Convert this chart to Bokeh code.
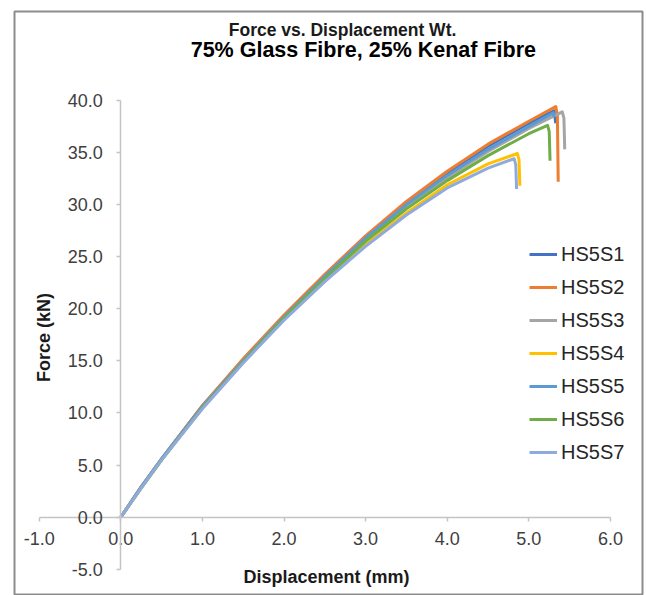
from math import pi
from bokeh.plotting import figure
from bokeh.models import (LinearAxis, FixedTicker, NumeralTickFormatter, Range1d,
                          Legend, LegendItem, Label)
from bokeh.embed import file_html
from bokeh.resources import INLINE

# ---------------- data ----------------
title_line1 = "Force vs. Displacement Wt."
title_line2 = "75% Glass Fibre, 25% Kenaf Fibre"
x_title = "Displacement (mm)"
y_title = "Force (kN)"

x_ticks = [-1, 0, 1, 2, 3, 4, 5, 6]
y_ticks = [-5, 0, 5, 10, 15, 20, 25, 30, 35, 40]

series_names = ["HS5S1", "HS5S2", "HS5S3", "HS5S4", "HS5S5", "HS5S6", "HS5S7"]
series_colors = ["#4472C4", "#ED7D31", "#A5A5A5", "#FFC000", "#5B9BD5", "#70AD47", "#8FAADC"]

hs5s1_x = [0, 0.25, 0.5, 1.0, 1.5, 2.0, 2.5, 3.0, 3.5, 4.0, 4.5, 5.0, 5.31, 5.33]
hs5s1_y = [0, 2.9, 5.6, 10.7, 15.1, 19.3, 23.2, 26.9, 30.2, 33.0, 35.6, 37.8, 39.0, 37.8]

hs5s2_x = [0, 0.25, 0.5, 1.0, 1.5, 2.0, 2.5, 3.0, 3.5, 4.0, 4.5, 5.0, 5.33, 5.35, 5.36]
hs5s2_y = [0, 2.9, 5.6, 10.7, 15.2, 19.4, 23.3, 27.0, 30.3, 33.2, 35.8, 38.0, 39.4, 38.6, 32.2]

hs5s3_x = [0, 0.25, 0.5, 1.0, 1.5, 2.0, 2.5, 3.0, 3.5, 4.0, 4.5, 5.0, 5.41, 5.43, 5.44]
hs5s3_y = [0, 2.8, 5.5, 10.6, 15.0, 19.2, 23.0, 26.7, 29.9, 32.6, 35.1, 37.3, 38.9, 38.3, 35.3]

hs5s4_x = [0, 0.25, 0.5, 1.0, 1.5, 2.0, 2.5, 3.0, 3.5, 4.0, 4.5, 4.86, 4.88, 4.89]
hs5s4_y = [0, 2.8, 5.5, 10.5, 14.9, 19.0, 22.7, 26.2, 29.2, 31.9, 33.9, 34.9, 34.3, 31.8]

hs5s5_x = [0, 0.25, 0.5, 1.0, 1.5, 2.0, 2.5, 3.0, 3.5, 4.0, 4.5, 5.0, 5.30, 5.31]
hs5s5_y = [0, 2.9, 5.6, 10.6, 15.0, 19.2, 23.1, 26.8, 30.0, 32.8, 35.3, 37.5, 38.8, 38.4]

hs5s6_x = [0, 0.25, 0.5, 1.0, 1.5, 2.0, 2.5, 3.0, 3.5, 4.0, 4.5, 5.0, 5.23, 5.25, 5.26]
hs5s6_y = [0, 2.8, 5.5, 10.5, 14.9, 19.1, 22.9, 26.5, 29.6, 32.3, 34.7, 36.8, 37.6, 37.0, 34.2]

hs5s7_x = [0, 0.25, 0.5, 1.0, 1.5, 2.0, 2.5, 3.0, 3.5, 4.0, 4.5, 4.82, 4.84, 4.85]
hs5s7_y = [0, 2.8, 5.5, 10.4, 14.8, 18.9, 22.6, 26.0, 29.0, 31.6, 33.5, 34.4, 33.8, 31.5]

series_x = [hs5s1_x, hs5s2_x, hs5s3_x, hs5s4_x, hs5s5_x, hs5s6_x, hs5s7_x]
series_y = [hs5s1_y, hs5s2_y, hs5s3_y, hs5s4_y, hs5s5_y, hs5s6_y, hs5s7_y]

# ---------------- figure ----------------
FONT = "Liberation Sans"

p = figure(width=644, height=595, output_backend="svg", toolbar_location=None,
           x_range=Range1d(-1.303, 6.393), y_range=Range1d(-7.52, 48.53),
           x_axis_type=None, y_axis_type=None,
           min_border_left=14, min_border_right=2, min_border_top=11, min_border_bottom=0)
p.outline_line_color = "#8c8c8c"
p.outline_line_width = 2
p.background_fill_color = "white"
p.border_fill_color = "white"

def style_axis(ax, standoff):
    ax.axis_line_color = "#c4c4c4"
    ax.axis_line_width = 1.5
    ax.major_tick_line_color = "#c4c4c4"
    ax.major_tick_line_width = 1.5
    ax.major_tick_out = 4
    ax.major_tick_in = 0
    ax.minor_tick_line_color = None
    ax.major_label_text_font = FONT
    ax.major_label_text_font_size = "18px"
    ax.major_label_text_color = "#404040"
    ax.major_label_standoff = standoff

xax = LinearAxis(fixed_location=0, ticker=FixedTicker(ticks=x_ticks),
                 formatter=NumeralTickFormatter(format="0.0"), bounds=(x_ticks[0], x_ticks[-1]))
style_axis(xax, 11)
p.add_layout(xax, "below")

yax = LinearAxis(fixed_location=0, ticker=FixedTicker(ticks=y_ticks),
                 formatter=NumeralTickFormatter(format="0.0"), bounds=(y_ticks[0], y_ticks[-1]))
style_axis(yax, 14)
p.add_layout(yax, "left")

renderers = []
for xs, ys, c in zip(series_x, series_y, series_colors):
    r = p.line(xs, ys, line_color=c, line_width=3, line_join="round")
    renderers.append(r)

legend = Legend(items=[LegendItem(label=n, renderers=[r]) for n, r in zip(series_names, renderers)],
                location=(515, 131), orientation="vertical",
                background_fill_alpha=0, border_line_color=None,
                padding=0, margin=0, glyph_width=28, glyph_height=24, label_height=24,
                label_standoff=4, spacing=9,
                label_text_font=FONT, label_text_font_size="20px", label_text_color="#262626")
p.add_layout(legend)

p.add_layout(Label(x=2.717, y=46.79, text=title_line1, text_font=FONT, text_font_size="17.5px",
                   text_font_style="bold", text_color="#1a1a1a", text_align="center",
                   text_baseline="middle"))
p.add_layout(Label(x=2.972, y=44.79, text=title_line2, text_font=FONT, text_font_size="21.5px",
                   text_font_style="bold", text_color="#000000", text_align="center",
                   text_baseline="middle"))
p.add_layout(Label(x=2.52, y=-5.79, text=x_title, text_font=FONT, text_font_size="18px",
                   text_font_style="bold", text_color="#1a1a1a", text_align="center",
                   text_baseline="middle"))
p.add_layout(Label(x=-0.947, y=17.25, text=y_title, text_font=FONT, text_font_size="18px",
                   text_font_style="bold", text_color="#1a1a1a", text_align="center",
                   text_baseline="middle", angle=pi / 2))

open("out.html", "w").write(file_html(p, INLINE))
